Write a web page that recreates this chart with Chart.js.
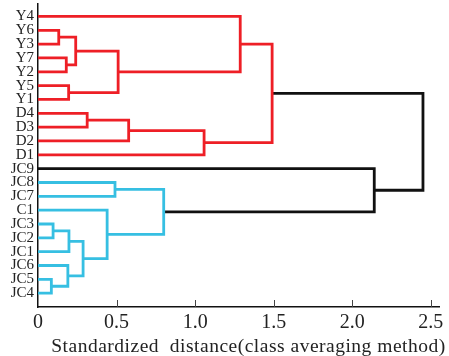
<!DOCTYPE html>
<html>
<head>
<meta charset="utf-8">
<script src="https://cdn.jsdelivr.net/npm/chart.js@4.4.1/dist/chart.umd.min.js"></script>
<style>
  html, body { margin: 0; padding: 0; background: #fff; }
  #wrap { width: 449px; height: 356px; }
</style>
</head>
<body>
<div id="wrap"><canvas id="chart"></canvas></div>
<script>
// leaves, top to bottom
var leaves = ['Y4', 'Y6', 'Y3', 'Y7', 'Y2', 'Y5', 'Y1', 'D4', 'D3', 'D2', 'D1',
  'JC9', 'JC8', 'JC7', 'C1', 'JC3', 'JC2', 'JC1', 'JC6', 'JC5', 'JC4'];

// merges: children are leaf names or '#n' (n = earlier merge)
var mergeLeft   = ['JC5', 'JC3', 'Y6', 'Y7', 'JC6', '#1', 'Y5', '#2', '#5', 'D4',
  'C1', 'JC8', '#7', '#9', '#11', '#13', 'Y4', '#16', 'JC9', '#17'];
var mergeRight  = ['JC4', 'JC2', 'Y3', 'Y2', '#0', 'JC1', 'Y1', '#3', '#4', 'D3',
  '#8', 'JC7', '#6', 'D2', '#10', 'D1', '#12', '#15', '#14', '#18'];
var mergeHeight = [0.085, 0.096, 0.132, 0.18, 0.19, 0.197, 0.195, 0.24, 0.287, 0.313,
  0.44, 0.49, 0.51, 0.577, 0.80, 1.057, 1.287, 1.49, 2.14, 2.45];

var xTicks = [0, 0.5, 1.0, 1.5, 2.0, 2.5];
var xTitle = 'Standardized  distance(class averaging method)';

var colorThreshold = 2.0;
var clusterColors = ['#ee1f26', '#36bfe2'];
var aboveColor = '#111';

var n = leaves.length;

// node position: x = height, y = leaf slot (Y4 on top)
function node(ref) {
  if (ref.charAt(0) == '#') return merged[+ref.slice(1)];
  return { x: 0, y: n - leaves.indexOf(ref), leaf: true };
}

var merged = [];
for (var i = 0; i < mergeHeight.length; i++) {
  var a = node(mergeLeft[i]), b = node(mergeRight[i]);
  merged.push({ x: mergeHeight[i], y: (a.y + b.y) / 2, a: a, b: b });
}

// colour clusters below threshold, in top to bottom order
var nextColor = 0;
function paint(m, color) {
  if (m.leaf) return;
  if (!color && m.x < colorThreshold) color = clusterColors[nextColor++ % clusterColors.length];
  m.color = color || aboveColor;
  var first = m.a.y > m.b.y ? m.a : m.b, second = first === m.a ? m.b : m.a;
  paint(first, color);
  paint(second, color);
}
paint(merged[merged.length - 1], null);

var datasets = merged.map(function(m) {
  return {
    data: [{ x: m.a.x, y: m.a.y }, { x: m.x, y: m.a.y }, { x: m.x, y: m.b.y }, { x: m.b.x, y: m.b.y }],
    borderColor: m.color,
    borderWidth: 2.8,
    borderJoinStyle: 'miter',
    pointRadius: 0,
    fill: false,
    tension: 0
  };
});

var serif = "'Liberation Serif', 'DejaVu Serif', serif";

// small tick marks pointing up into the plot, plus the axis title
var extras = {
  id: 'extras',
  afterDraw: function(chart) {
    var ctx = chart.ctx, sx = chart.scales.x, area = chart.chartArea;
    ctx.save();
    ctx.strokeStyle = '#444';
    ctx.lineWidth = 1;
    xTicks.forEach(function(v) {
      if (v === 0) return;
      var px = Math.round(sx.getPixelForValue(v)) + 0.5;
      ctx.beginPath();
      ctx.moveTo(px, area.bottom - 7);
      ctx.lineTo(px, area.bottom);
      ctx.stroke();
    });
    // title sits a little right of centre, like the original
    ctx.fillStyle = '#222';
    ctx.font = '19.5px ' + serif;
    ctx.letterSpacing = '0.5px';
    ctx.textAlign = 'center';
    ctx.textBaseline = 'alphabetic';
    ctx.fillText(xTitle, (area.left + area.right) / 2 + 10, area.bottom + 45);
    ctx.restore();
  }
};

new Chart(document.getElementById('chart'), {
  type: 'line',
  data: { datasets: datasets },
  plugins: [extras],
  options: {
    responsive: true,
    maintainAspectRatio: false,
    animation: false,
    layout: { padding: { left: 0, top: 4, right: 10, bottom: 0 } },
    plugins: { legend: { display: false }, tooltip: { enabled: false } },
    scales: {
      x: {
        type: 'linear',
        min: 0,
        max: 2.552,
        afterBuildTicks: function(scale) {
          scale.ticks = xTicks.map(function(v) { return { value: v }; });
        },
        afterFit: function(scale) {
          scale.height = 49;
          scale.paddingLeft = 0;
          scale.paddingRight = 0;
        },
        grid: { drawOnChartArea: false, drawTicks: false },
        border: { display: true, color: '#111', width: 1.5 },
        ticks: {
          padding: 4,
          color: '#222',
          font: { family: serif, size: 20 },
          maxRotation: 0,
          callback: function(v) { return v === 0 ? '0' : v.toFixed(1); }
        }
      },
      y: {
        type: 'linear',
        min: 0,
        max: 21.9,
        afterBuildTicks: function(scale) {
          scale.ticks = leaves.map(function(l, i) { return { value: n - i }; });
        },
        afterFit: function(scale) {
          scale.width = 38;
          scale.paddingTop = 0;
          scale.paddingBottom = 0;
        },
        grid: { drawOnChartArea: false, drawTicks: false },
        border: { display: true, color: '#111', width: 1.5 },
        ticks: {
          padding: 4,
          color: '#222',
          autoSkip: false,
          font: { family: serif, size: 15 },
          callback: function(v) { return leaves[n - v]; }
        }
      }
    }
  }
});
</script>
</body>
</html>
